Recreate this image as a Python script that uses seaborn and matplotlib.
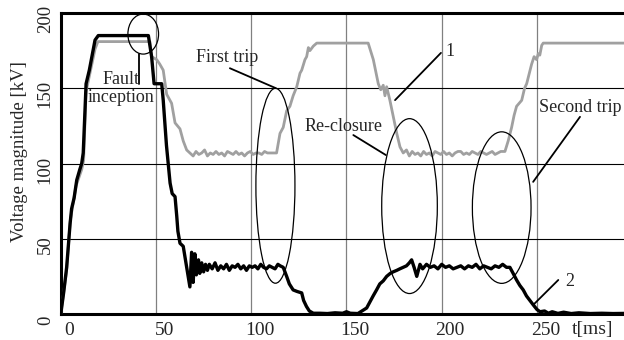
import seaborn as sns
import matplotlib.pyplot as plt
import matplotlib.transforms as mtransforms
from matplotlib.patches import Ellipse

# voltage magnitude, t in ms and v in kV
# curve 2 (black)
t_black = [0, 1.5, 3.1, 4.9, 5.7, 7, 8.4, 10, 11, 11.8, 13.3, 15, 16.5, 18, 19.7,
           30, 46, 47.7, 49, 53, 53.8, 55.5, 57.4, 58.5, 60, 60.9, 61.5, 62.6, 64.3,
           65.2, 66.1, 67, 67.8, 68.7, 69.5, 70.4, 71.2, 72.3, 73, 74, 75, 76, 77,
           78, 79.5, 81, 82.5, 84, 85.5, 87, 88.5, 90, 91.5, 93, 94.5, 96, 97.5, 99,
           100.5, 102, 103.5, 105, 106.5, 108, 109.5, 111, 112.5, 114, 115.2, 116.8,
           118.6, 120, 122, 124, 126.5, 127.5, 129, 130.5, 132.6, 136, 140, 144, 148,
           150, 152, 156, 160.6, 162.3, 164, 165.8, 167.5, 169.3, 171.1, 173, 174.5,
           176.4, 178, 179.8, 181.5, 183, 184.2, 185.5, 186.9, 188.6, 190, 192, 194,
           196, 198, 200, 202, 204, 206, 208, 210, 212, 214, 216, 218, 220, 222, 224,
           226, 228, 230, 232, 234, 235.8, 237.5, 239.3, 241, 242.8, 244.5, 246.3,
           248.1, 250, 251.6, 254, 256, 258, 261, 264, 268, 272, 278, 284, 290, 296]
v_black = [0, 14, 31, 60, 70, 77, 89, 96, 100, 107, 153, 162, 172, 182, 185,
           185, 185, 171, 153, 153, 142, 112, 87, 80, 78, 65, 55, 47, 45,
           38, 31, 24, 18, 41, 21, 40, 26, 36, 27, 34, 28, 33, 29,
           33, 30, 34, 29, 32, 30, 33, 29, 32, 31, 33, 30, 32, 29, 32,
           31, 32, 30, 33, 31, 30, 32, 31, 30, 33, 32, 31,
           25, 20, 16, 15, 14, 9, 5, 2, 0.5, 0.5, 0.3, 0.8, 0.5,
           1.5, 0.5, 0.3, 4, 8, 12, 16, 20, 22, 25, 27, 28,
           29, 30, 31, 32, 34, 36, 31, 25, 33, 30, 33, 31,
           32, 30, 33, 31, 32, 30, 31, 32, 30, 32, 31, 33, 30, 32, 31,
           30, 32, 31, 33, 31, 31, 27, 22.6, 19, 16, 12, 9,
           6, 3, 1.5, 2, 0.5, 1.5, 0.4, 1.2, 0.3, 0.8, 0.3, 0.5, 0.3, 0.4]

# curve 1 (gray)
t_gray = [0, 3, 5, 8, 11, 12, 13.3, 15, 18, 19.5, 30, 46.8, 47.7, 50.4, 52, 53.8,
          55.6, 58.2, 60, 62.6, 64.3, 66.1, 67.8, 69.5, 71, 72.5, 74, 75.5, 77,
          78.5, 80, 81.5, 83, 84.5, 86, 87.5, 89, 90.5, 92, 93.5, 95, 96.5, 98,
          99.5, 101, 102.5, 104, 105.5, 107, 108.5, 110, 111.5, 113.3, 115.1,
          116.8, 118.6, 120.3, 122, 123.9, 125.6, 126.5, 128.2, 129.1, 130, 130.8,
          132.6, 134.4, 150, 161.4, 164.1, 166.7, 168, 169.3, 170.2, 171.1, 172.8,
          174.6, 176.4, 178.1, 179.8, 181.5, 183, 184.5, 186, 187.5, 189, 190.5,
          192, 193.5, 195, 196.5, 198, 199.5, 201, 202.5, 204, 205.5, 207, 208.5,
          210, 211.5, 213, 214.5, 216, 217.5, 219, 220.5, 222, 223.5, 225, 226.5,
          228, 229.5, 231, 233.2, 234.9, 236.7, 238, 239.3, 242, 243.5, 244.6,
          246, 247.2, 248.5, 249.8, 250.7, 251.5, 252.5, 253.3, 270, 296]
v_gray = [0, 28, 62, 85, 96, 102, 148, 158, 176, 181, 181, 181, 171, 169, 166, 162,
          146, 140, 127, 123, 115, 109, 107, 105, 108, 106, 107, 109, 105,
          107, 106, 108, 106, 107, 105, 108, 107, 106, 108, 106, 107, 105, 107,
          108, 106, 107, 107, 106, 108, 107, 107, 107, 107, 120,
          124, 135, 138, 145, 151, 160, 162, 169, 171, 177, 175,
          178, 180, 180, 180, 169, 153, 149, 152, 145, 151, 142,
          131, 120, 111, 107, 109, 105, 108, 106, 107, 105, 108,
          106, 107, 105, 108, 107, 106, 108, 106, 107, 105, 107, 108,
          108, 106, 107, 106, 108, 107, 106, 108, 107, 106, 107, 108,
          106, 107, 108, 108, 115, 124, 132, 138, 142, 150, 153,
          160, 166, 171, 169, 173, 172, 178.5, 180, 180, 180]

sns.set_style("white")
plt.rcParams['font.family'] = ['Liberation Serif', 'DejaVu Serif']

fig = plt.figure(figsize=(6.24, 3.4), dpi=100)
ax = fig.add_axes([60.75 / 624, 26 / 340, 563.25 / 624, 301 / 340])

sns.lineplot(x=t_gray, y=v_gray, ax=ax, color='#a0a0a0', lw=2.0,
             estimator=None, sort=False, zorder=3)
sns.lineplot(x=t_black, y=v_black, ax=ax, color='black', lw=2.4,
             estimator=None, sort=False, zorder=4)

ax.set_xlim(0, 295.7)
ax.set_ylim(0, 200)
ax.set_xticks([0, 50, 100, 150, 200, 250])
ax.set_yticks([0, 50, 100, 150, 200])
ax.tick_params(axis='x', length=0, pad=6, labelsize=14)
ax.tick_params(axis='y', length=0, pad=5, labelsize=13.5)
yoff = mtransforms.ScaledTranslation(0, -0.06, fig.dpi_scale_trans)
for lab in ax.get_yticklabels():
    lab.set_rotation(90)
    lab.set_va('center')
    lab.set_transform(lab.get_transform() + yoff)
xoff = mtransforms.ScaledTranslation(0.085, 0, fig.dpi_scale_trans)
for lab in ax.get_xticklabels():
    lab.set_transform(lab.get_transform() + xoff)

ax.xaxis.grid(True, color='#808080', lw=0.9)
ax.yaxis.grid(True, color='black', lw=0.8)
ax.set_axisbelow(True)

for s in ['left', 'bottom', 'top']:
    ax.spines[s].set_linewidth(2.2)
    ax.spines[s].set_color('black')
ax.spines['right'].set_visible(False)

ax.set_ylabel('Voltage magnitude [kV]', fontsize=13.5)
ax.yaxis.set_label_coords(-0.059, 0.54)
ax.set_xlabel('')
ax.text(279, -0.05, 't[ms]', transform=ax.get_xaxis_transform(),
        ha='center', va='center', fontsize=14)

# annotations
for cx, cy, w, h in [(43.3, 186, 16.1, 26.6), (112.7, 85.2, 20.5, 129.5),
                     (183.1, 71.7, 29.2, 116.2), (231.5, 70.7, 30.8, 100.7)]:
    ax.add_patch(Ellipse((cx, cy), w, h, fill=False, ec='black', lw=0.9, zorder=5))

leaders = [((41.2, 41.2), (173, 153)), ((113, 88.8), (150, 163.3)),
           ((170.7, 153.6), (105.6, 118.9)), ((248, 272.6), (87.8, 131)),
           ((175.5, 199.6), (142.1, 173.5)), ((248, 261.2), (6, 22.6))]
for xs, ys in leaders:
    ax.plot(xs, ys, color='black', lw=1.3, zorder=5)

ax.text(31.6, 150, 'Fault\ninception', ha='center', va='center', fontsize=13,
        linespacing=1.1, zorder=6)
ax.text(87.1, 170.6, 'First trip', ha='center', va='center', fontsize=13, zorder=6)
ax.text(148.5, 124.4, 'Re-closure', ha='center', va='center', fontsize=13, zorder=6)
ax.text(272.6, 137, 'Second trip', ha='center', va='center', fontsize=13, zorder=6)
ax.text(204.3, 174.6, '1', ha='center', va='center', fontsize=13, zorder=6)
ax.text(267.3, 21.4, '2', ha='center', va='center', fontsize=13, zorder=6)

plt.savefig('out.png', dpi=100)
